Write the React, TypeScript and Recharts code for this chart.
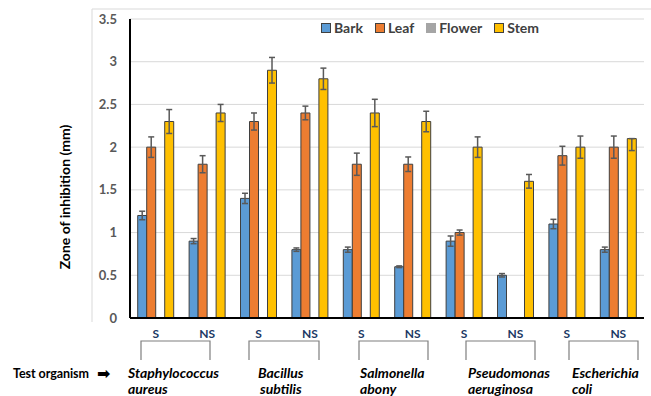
import { BarChart, Bar, XAxis, YAxis, CartesianGrid, ErrorBar } from "recharts";

const organisms = [
  "Staphylococcus aureus",
  "Bacillus subtilis",
  "Salmonella abony",
  "Pseudomonas aeruginosa",
  "Escherichia coli",
];
const treatments = ["S", "NS"];

const bark = [1.2, 0.9, 1.4, 0.8, 0.8, 0.6, 0.9, 0.5, 1.1, 0.8];
const barkErr = [0.05, 0.03, 0.06, 0.02, 0.03, 0.01, 0.06, 0.02, 0.055, 0.03];
const leaf = [2.0, 1.8, 2.3, 2.4, 1.8, 1.8, 1.0, 0, 1.9, 2.0];
const leafErr = [0.12, 0.1, 0.1, 0.08, 0.13, 0.085, 0.03, 0, 0.11, 0.13];
const flower = [0, 0, 0, 0, 0, 0, 0, 0, 0, 0];
const stem = [2.3, 2.4, 2.9, 2.8, 2.4, 2.3, 2.0, 1.6, 2.0, 2.1];
const stemErr: (number | number[])[] = [0.14, 0.1, 0.15, 0.125, 0.16, 0.12, 0.12, 0.08, 0.13, [0.14, 0]];

const yTicks = [0, 0.5, 1, 1.5, 2, 2.5, 3, 3.5];

const series = [
  { key: "bark", name: "Bark", color: "#5b9bd5", err: "barkErr", border: true },
  { key: "leaf", name: "Leaf", color: "#ed7d31", err: "leafErr", border: true },
  { key: "flower", name: "Flower", color: "#a5a5a5", err: null, border: false },
  { key: "stem", name: "Stem", color: "#ffc000", err: "stemErr", border: true },
];

const data = bark.map((_, i) => ({
  id: `${organisms[Math.floor(i / 2)]} ${treatments[i % 2]}`,
  label: treatments[i % 2],
  bark: bark[i],
  barkErr: barkErr[i],
  leaf: leaf[i],
  leafErr: leafErr[i],
  flower: flower[i],
  stem: stem[i],
  stemErr: stemErr[i],
}));

// annotation layout under the axis (brackets + organism names)
const bracketX = [
  [141, 210],
  [249, 319],
  [359, 428],
  [466, 535],
  [569, 638],
];
const nameX = [128, 258, 360, 468, 572];

const font = "Lato, 'Open Sans', sans-serif";

export default function App() {
  return (
    <div style={{ position: "absolute", left: 0, top: 0, width: 651, height: 396, background: "#fff", fontFamily: font }}>
      <BarChart
        width={651}
        height={396}
        data={data}
        margin={{ top: 19, right: 7, bottom: 48, left: 0 }}
        barCategoryGap="15%"
        barGap={0}
      >
        <CartesianGrid vertical={false} stroke="#d9d9d9" strokeWidth={1} />
        <XAxis
          dataKey="id"
          height={30}
          tickFormatter={(_v: string, i: number) => data[i]?.label ?? ""}
          axisLine={{ stroke: "#000", strokeWidth: 2 }}
          tickLine={false}
          tickMargin={5}
          interval={0}
          tick={{ fill: "#203864", fontSize: 12, fontWeight: 700, fontFamily: font }}
        />
        <YAxis
          width={130}
          domain={[0, 3.5]}
          ticks={yTicks}
          axisLine={{ stroke: "#000", strokeWidth: 2 }}
          tickLine={false}
          tickMargin={7}
          tick={{ fill: "#595959", fontSize: 13, fontWeight: 700, fontFamily: font }}
        />
        {series.map((s) => (
          <Bar
            key={s.key}
            dataKey={s.key}
            name={s.name}
            fill={s.color}
            stroke="#3f3f3f"
            strokeWidth={1}
            isAnimationActive={false}
          >
            {s.err && (
              <ErrorBar dataKey={s.err} width={3} stroke="#595959" strokeWidth={1.5} direction="y" />
            )}
          </Bar>
        ))}
      </BarChart>

      <svg
        width={651}
        height={396}
        style={{ position: "absolute", left: 0, top: 0, pointerEvents: "none", fontFamily: font }}
      >
        <path d="M92 322 V9 H651" fill="none" stroke="#d9d9d9" strokeWidth={1} />

        <text
          transform="translate(70 197) rotate(-90)"
          textAnchor="middle"
          fontSize={14}
          fontWeight={700}
          fill="#000"
        >
          Zone of inhibition (mm)
        </text>

        {bracketX.map(([a, b], i) => (
          <path key={i} d={`M${a} 360 V341 H${b} V360`} fill="none" stroke="#7f7f7f" strokeWidth={1.2} />
        ))}

        <text x={13} y={378} fontSize={12.5} fontWeight={700} fill="#000" textLength={76}>
          Test organism
        </text>
        <text x={97} y={379} fontSize={16} fontWeight={700} fill="#000" fontFamily="DejaVu Sans">
          ➡
        </text>
        {organisms.map((o, i) => {
          const [l1, l2] = o.split(" ");
          return (
            <text key={o} fontSize={14} fontWeight={700} fontStyle="italic" fill="#000">
              <tspan x={nameX[i]} y={378}>
                {l1}
              </tspan>
              <tspan x={nameX[i] + (i === 1 ? 2 : 0)} y={394}>
                {l2}
              </tspan>
            </text>
          );
        })}
      </svg>

      <div
        style={{
          position: "absolute",
          left: 321,
          top: 19,
          display: "flex",
          gap: 12,
          alignItems: "center",
          fontSize: 14,
          fontWeight: 700,
          color: "#404040",
          lineHeight: "18px",
        }}
      >
        {series.map((s) => (
          <div key={s.key} style={{ display: "flex", alignItems: "center", gap: 3 }}>
            <span
              style={{
                display: "inline-block",
                width: 8,
                height: 8,
                background: s.color,
                border: s.border ? "1px solid #404040" : "1px solid " + s.color,
              }}
            />
            <span>{s.name}</span>
          </div>
        ))}
      </div>
    </div>
  );
}
